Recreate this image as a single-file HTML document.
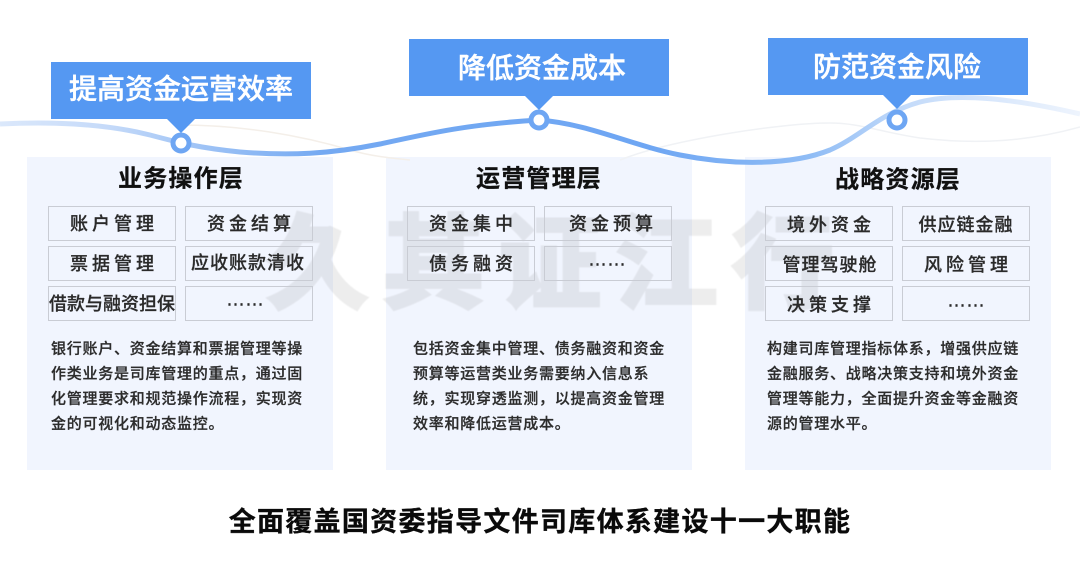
<!DOCTYPE html>
<html lang="zh-CN">
<head>
<meta charset="utf-8">
<title>司库体系建设十一大职能</title>
<style>
html,body{margin:0;padding:0;background:#fff;width:1080px;height:562px;overflow:hidden}
svg{display:block;font-family:"Liberation Sans","Noto Sans CJK SC",sans-serif;filter:blur(.35px)}
.card{fill:#f1f5fe}
.cell{fill:none;stroke:#c9ccd4;stroke-width:1}
.banner{fill:#5598f2}
.bt{fill:#fff;stroke:#fff;stroke-width:.45px;font-size:28px;font-weight:500;text-anchor:middle;dominant-baseline:central}
.title{fill:#111;stroke:#111;stroke-width:.25px;font-size:24px;font-weight:700;letter-spacing:1.2px;text-anchor:middle;dominant-baseline:central}
.c{fill:#2a2a2a;stroke:#2a2a2a;stroke-width:.25px;font-size:18px;font-weight:500;text-anchor:middle;dominant-baseline:central}
.w{letter-spacing:4px}
.m{letter-spacing:1px}
.e{font-size:19px;stroke-width:.4px;letter-spacing:0}
.d{fill:#2c2c2c;stroke:#2c2c2c;stroke-width:.25px;font-size:15px;font-weight:500;letter-spacing:.75px;dominant-baseline:central}
.wm{fill:#777;stroke:#777;stroke-width:4px;font-size:102px;font-weight:700;dominant-baseline:central}
.main{fill:#0a0a0a;stroke:#0a0a0a;stroke-width:.35px;font-size:27px;font-weight:700;letter-spacing:1.3px;text-anchor:middle;dominant-baseline:central}
</style>
</head>
<body>
<svg width="1080" height="562" viewBox="0 0 1080 562" xmlns="http://www.w3.org/2000/svg">
<defs>
<linearGradient id="g" x1="0" y1="0" x2="1080" y2="0" gradientUnits="userSpaceOnUse">
<stop offset="0" stop-color="#dbe8fb"/>
<stop offset=".1" stop-color="#c5daf9"/>
<stop offset=".17" stop-color="#a5c7f6"/>
<stop offset=".3" stop-color="#74a9f2"/>
<stop offset=".6" stop-color="#6ea6f3"/>
<stop offset=".75" stop-color="#8fbcf5"/>
<stop offset=".84" stop-color="#c4dbfa"/>
<stop offset="1" stop-color="#eef4fd"/>
</linearGradient>
</defs>

<rect class="card" x="27" y="157" width="306" height="313"/>
<rect class="card" x="386" y="157" width="306" height="313"/>
<rect class="card" x="745" y="157" width="306" height="313"/>

<g style="filter:blur(.6px)" opacity=".13">
<text class="wm" x="266" y="265" textLength="568" lengthAdjust="spacing">久其证江行</text>
</g>

<path d="M181 125C240 125 300 135 350 150C370 156 390 158 410 160" fill="none" stroke="#f4efe9" stroke-width="1.5"/>
<path d="M620 160C670 140 780 123 830 123C860 123 880 132 920 138C980 145 1030 141 1080 127" fill="none" stroke="#f0f2f5" stroke-width="1.5"/>
<path d="M0 124C60 121 110 125 150 135C180 143 200 148 240 152C290 156 330 154 380 144C430 133 470 124 539 120C590 124 630 145 680 155C730 165 790 166 830 150C860 137 880 113 920 102C960 92 1020 100 1080 114" fill="none" stroke="url(#g)" stroke-width="5"/>

<path d="M51 62H311V119H195L181 133L167 119H51Z" class="banner"/>
<path d="M409 39H669V96H553L539 110L525 96H409Z" class="banner"/>
<path d="M768 38H1028V95H911L897 109L883 95H768Z" class="banner"/>

<circle cx="181" cy="143" r="8" fill="#fff" stroke="#6ea6f3" stroke-width="5"/>
<circle cx="539" cy="120" r="8" fill="#fff" stroke="#6ea6f3" stroke-width="5"/>
<circle cx="897" cy="120" r="8" fill="#fff" stroke="#6ea6f3" stroke-width="5"/>

<text class="bt" x="181" y="89">提高资金运营效率</text>
<text class="bt" x="542" y="68">降低资金成本</text>
<text class="bt" x="897" y="67">防范资金风险</text>

<text class="title" x="181" y="179">业务操作层</text>
<text class="title" x="539" y="179">运营管理层</text>
<text class="title" x="898" y="180">战略资源层</text>

<g>
<rect class="cell" x="48.5" y="206.5" width="127" height="34"/>
<rect class="cell" x="185.5" y="206.5" width="127" height="34"/>
<rect class="cell" x="48.5" y="246.5" width="127" height="34"/>
<rect class="cell" x="185.5" y="246.5" width="127" height="34"/>
<rect class="cell" x="48.5" y="286.5" width="127" height="34"/>
<rect class="cell" x="185.5" y="286.5" width="127" height="34"/>
<rect class="cell" x="407.5" y="206.5" width="127" height="34"/>
<rect class="cell" x="544.5" y="206.5" width="127" height="34"/>
<rect class="cell" x="407.5" y="246.5" width="127" height="34"/>
<rect class="cell" x="544.5" y="246.5" width="127" height="34"/>
<rect class="cell" x="765.5" y="206.5" width="127" height="34"/>
<rect class="cell" x="902.5" y="206.5" width="127" height="34"/>
<rect class="cell" x="765.5" y="246.5" width="127" height="34"/>
<rect class="cell" x="902.5" y="246.5" width="127" height="34"/>
<rect class="cell" x="765.5" y="286.5" width="127" height="34"/>
<rect class="cell" x="902.5" y="286.5" width="127" height="34"/>
</g>

<text class="c w" x="114" y="224">账户管理</text>
<text class="c w" x="251" y="224">资金结算</text>
<text class="c w" x="114" y="264">票据管理</text>
<text class="c m" x="248" y="263">应收账款清收</text>
<text class="c" x="112" y="304">借款与融资担保</text>
<text class="c e" x="245" y="300">……</text>

<text class="c w" x="473" y="224">资金集中</text>
<text class="c w" x="613" y="224">资金预算</text>
<text class="c w" x="473" y="264">债务融资</text>
<text class="c e" x="607" y="260">……</text>

<text class="c w" x="831" y="225">境外资金</text>
<text class="c m" x="966" y="225">供应链金融</text>
<text class="c m" x="830" y="265">管理驾驶舱</text>
<text class="c w" x="968" y="265">风险管理</text>
<text class="c w" x="831" y="305">决策支撑</text>
<text class="c e" x="966" y="301">……</text>

<text class="d" x="51" y="349">银行账户、资金结算和票据管理等操</text>
<text class="d" x="51" y="374">作类业务是司库管理的重点，通过固</text>
<text class="d" x="51" y="399">化管理要求和规范操作流程，实现资</text>
<text class="d" x="51" y="424">金的可视化和动态监控。</text>

<text class="d" x="413" y="349">包括资金集中管理、债务融资和资金</text>
<text class="d" x="413" y="374">预算等运营类业务需要纳入信息系</text>
<text class="d" x="413" y="399">统，实现穿透监测，以提高资金管理</text>
<text class="d" x="413" y="424">效率和降低运营成本。</text>

<text class="d" x="767" y="349">构建司库管理指标体系，增强供应链</text>
<text class="d" x="767" y="374">金融服务、战略决策支持和境外资金</text>
<text class="d" x="767" y="399">管理等能力，全面提升资金等金融资</text>
<text class="d" x="767" y="424">源的管理水平。</text>

<text class="main" x="540" y="522">全面覆盖国资委指导文件司库体系建设十一大职能</text>
</svg>
</body>
</html>
